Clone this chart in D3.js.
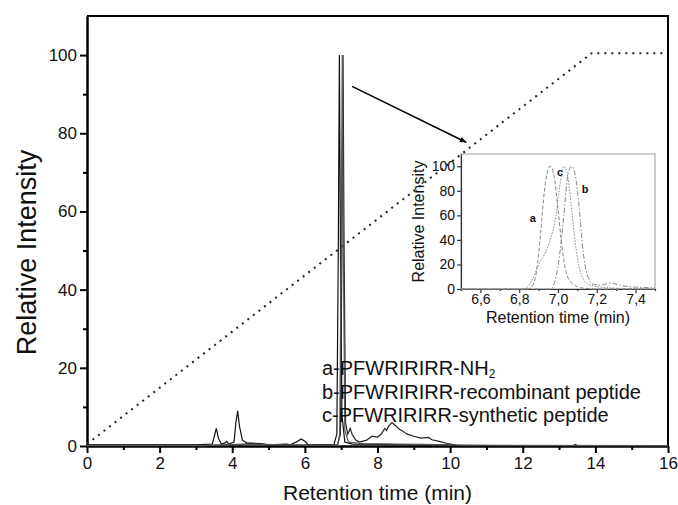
<!DOCTYPE html>
<html>
<head>
<meta charset="utf-8">
<script src="https://cdn.jsdelivr.net/npm/d3@7"></script>
<style>
  body { margin: 0; background: #fff; }
  text { font-family: 'Liberation Sans', Arial, sans-serif; fill: #111; }
</style>
</head>
<body>
<script>
// Chart settings
const width = 678
const height = 505

// Main chromatogram traces [time, intensity]
const traceA = [[0, 0.3], [3.0, 0.3], [3.45, 0.5], [3.52, 3], [3.56, 4.5], [3.62, 2], [3.7, 0.5], [3.8, 0.8], [3.85, 1.2], [3.9, 0.5],
  [4.05, 1], [4.1, 6], [4.15, 9], [4.2, 5], [4.28, 1.5], [4.4, 0.8], [4.8, 0.6], [5.0, 0.3], [5.5, 0.5], [5.6, 0.3],
  [5.8, 1.2], [5.9, 1.8], [6.0, 1.2], [6.1, 0.3], [6.8, 0.4], [6.88, 3], [6.92, 50], [6.95, 100], [6.98, 50], [7.02, 8],
  [7.1, 1], [7.3, 0.5], [8.0, 0.4], [9.0, 0.3], [10.0, 0.3], [10.2, 0.1], [16, 0.1]]
const traceB = [[0, 0.2], [4.3, 0.2], [4.4, 0.6], [4.8, 0.5], [5.0, 0.2], [6.9, 0.3], [6.98, 3], [7.02, 50], [7.05, 100], [7.08, 50],
  [7.12, 6], [7.18, 3], [7.25, 4.5], [7.3, 3], [7.4, 1.5], [7.5, 1], [7.7, 1.5], [7.85, 2.5], [8.0, 2.3], [8.1, 3],
  [8.2, 4.5], [8.25, 4], [8.3, 5], [8.4, 6], [8.5, 5.2], [8.6, 4.3], [8.7, 3.8], [8.8, 3.1], [9.0, 2.5], [9.2, 2],
  [9.4, 2.2], [9.5, 1.6], [9.7, 1.2], [9.9, 0.7], [10.05, 0.4], [10.2, 0.1], [13.4, 0.1], [13.45, 0.4], [13.5, 0.1], [16, 0.1]]
const traceC = [[0, 0.1], [3.2, 0.1], [4.3, 0.5], [4.8, 0.4], [5.5, 0.3], [6.9, 0.2], [6.96, 3], [7.0, 50], [7.03, 100], [7.06, 50],
  [7.1, 4], [7.2, 1], [7.6, 0.6], [8.5, 0.5], [9.2, 0.4], [10.0, 0.3], [10.6, 0.2], [16, 0.1]]

// Gradient (dotted line)
const gradient = [[0, 0.5], [13.9, 100.5], [16, 100.5]]

// Inset traces (zoom of main peak)
const insetA = [[6.5, 0], [6.85, 0], [6.87, 3], [6.89, 15], [6.91, 45], [6.93, 80], [6.95, 98], [6.96, 100], [6.98, 92],
  [7.0, 65], [7.02, 35], [7.04, 15], [7.07, 5], [7.12, 1], [7.2, 0], [7.5, 0]]
const insetC = [[6.5, 0], [6.82, 0], [6.85, 3], [6.88, 12], [6.9, 20], [6.93, 28], [6.96, 40], [6.99, 60], [7.01, 85], [7.03, 100],
  [7.05, 92], [7.07, 65], [7.1, 25], [7.13, 8], [7.17, 3], [7.25, 1], [7.5, 0]]
const insetB = [[6.5, 0], [6.96, 0], [6.99, 10], [7.01, 30], [7.03, 60], [7.05, 92], [7.07, 100], [7.09, 92], [7.11, 65],
  [7.13, 30], [7.15, 12], [7.18, 4], [7.22, 3], [7.27, 5], [7.32, 3], [7.4, 1.5], [7.5, 1]]

// Tick values
const xTicks = [0, 2, 4, 6, 8, 10, 12, 14, 16]
const xMinor = [1, 3, 5, 7, 9, 11, 13, 15]
const yTicks = [0, 20, 40, 60, 80, 100]
const yMinor = [10, 30, 50, 70, 90]
const insetXTicks = [6.6, 6.8, 7.0, 7.2, 7.4]
const insetXMinor = [6.5, 6.7, 6.9, 7.1, 7.3, 7.5]
const insetYTicks = [0, 20, 40, 60, 80, 100]

// Legend lines
const legendLines = ['a-PFWRIRIRR-NH', 'b-PFWRIRIRR-recombinant peptide', 'c-PFWRIRIRR-synthetic peptide']

const svg = d3.select('body').append('svg')
  .attr('width', width)
  .attr('height', height)

svg.append('defs').append('marker')
  .attr('id', 'arrow')
  .attr('viewBox', '0 0 10 10')
  .attr('refX', 9).attr('refY', 5)
  .attr('markerWidth', 7).attr('markerHeight', 7)
  .attr('markerUnits', 'userSpaceOnUse')
  .attr('orient', 'auto')
  .append('path')
  .attr('d', 'M0,1 L10,5 L0,9 Z')
  .attr('fill', '#000')

// Main scales
const xScale = d3.scaleLinear().domain([0, 16]).range([87, 668])
const yScale = d3.scaleLinear().domain([0, 110]).range([446, 16])

// Main axes
svg.append('g')
  .attr('transform', `translate(0, ${yScale(0)})`)
  .call(d3.axisBottom(xScale).tickValues(xTicks).tickSize(7).tickSizeOuter(0).tickPadding(4))
svg.append('g')
  .attr('transform', `translate(0, ${yScale(0)})`)
  .call(d3.axisBottom(xScale).tickValues(xMinor).tickSize(4).tickSizeOuter(0).tickFormat(''))
svg.append('g')
  .attr('transform', `translate(${xScale(0)}, 0)`)
  .call(d3.axisLeft(yScale).tickValues(yTicks).tickSize(7).tickSizeOuter(0).tickPadding(3))
svg.append('g')
  .attr('transform', `translate(${xScale(0)}, 0)`)
  .call(d3.axisLeft(yScale).tickValues(yMinor).tickSize(4).tickSizeOuter(0).tickFormat(''))

svg.selectAll('.domain, .tick line').attr('stroke', '#000').attr('stroke-width', 2)
svg.selectAll('.tick text').style('font-size', '17px').attr('fill', '#111')

// Frame (top, right)
svg.append('path')
  .attr('d', `M${xScale(0)},${yScale(110)} H${xScale(16)} V${yScale(0)}`)
  .attr('fill', 'none')
  .attr('stroke', '#000')
  .attr('stroke-width', 2)

// Axis titles
svg.append('text')
  .attr('x', (xScale(0) + xScale(16)) / 2)
  .attr('y', 500)
  .attr('text-anchor', 'middle')
  .style('font-size', '21px')
  .text('Retention time (min)')
svg.append('text')
  .attr('transform', `translate(36, ${yScale(50) + 2}) rotate(-90)`)
  .attr('text-anchor', 'middle')
  .style('font-size', '27px')
  .text('Relative Intensity')

const line = d3.line().x(d => xScale(d[0])).y(d => yScale(d[1]))

// Gradient
svg.append('path')
  .datum(gradient)
  .attr('d', line)
  .attr('fill', 'none')
  .attr('stroke', '#222')
  .attr('stroke-width', 2)
  .attr('stroke-dasharray', '2,5')

// Traces
const traceColors = ['#111', '#222', '#555']
;[traceA, traceB, traceC].forEach((t, i) => {
  svg.append('path')
    .datum(t)
    .attr('d', line)
    .attr('fill', 'none')
    .attr('stroke', traceColors[i])
    .attr('stroke-width', 1.2)
})

// Arrow from peak to inset
svg.append('line')
  .attr('x1', xScale(7.3)).attr('y1', yScale(92))
  .attr('x2', xScale(10.44)).attr('y2', yScale(77.7))
  .attr('stroke', '#000')
  .attr('stroke-width', 1.5)
  .attr('marker-end', 'url(#arrow)')

// Legend text
const legend = svg.append('g')
legendLines.forEach((t, i) => {
  const txt = legend.append('text')
    .attr('x', 322)
    .attr('y', 375 + i * 23.5)
    .style('font-size', '20px')
    .text(t)
  if (i === 0) {
    txt.append('tspan').attr('dy', 3).style('font-size', '12px').text('2')
  }
})

// Inset
const ix = d3.scaleLinear().domain([6.5, 7.5]).range([461, 655])
const iy = d3.scaleLinear().domain([0, 110]).range([289, 154])
const inset = svg.append('g')

inset.append('rect')
  .attr('x', ix(6.5)).attr('y', iy(110))
  .attr('width', ix(7.5) - ix(6.5)).attr('height', iy(0) - iy(110))
  .attr('fill', '#fff')
  .attr('stroke', '#999')
  .attr('stroke-width', 1)

inset.append('g')
  .attr('transform', `translate(0, ${iy(0)})`)
  .call(d3.axisBottom(ix).tickValues(insetXTicks).tickSize(4).tickSizeOuter(0).tickPadding(1)
    .tickFormat(d => d3.format('.1f')(d).replace('.', ',')))
inset.append('g')
  .attr('transform', `translate(0, ${iy(0)})`)
  .call(d3.axisBottom(ix).tickValues(insetXMinor).tickSize(2).tickSizeOuter(0).tickFormat(''))
inset.append('g')
  .attr('transform', `translate(${ix(6.5)}, 0)`)
  .call(d3.axisLeft(iy).tickValues(insetYTicks).tickSize(4).tickSizeOuter(0).tickPadding(2))

inset.selectAll('.domain, .tick line').attr('stroke', '#333').attr('stroke-width', 1.2)
inset.selectAll('.tick text').style('font-size', '14px').attr('fill', '#222')

inset.append('text')
  .attr('x', (ix(6.5) + ix(7.5)) / 2)
  .attr('y', 323)
  .attr('text-anchor', 'middle')
  .style('font-size', '16px')
  .text('Retention time (min)')
inset.append('text')
  .attr('transform', `translate(424, ${iy(55)}) rotate(-90)`)
  .attr('text-anchor', 'middle')
  .style('font-size', '16px')
  .text('Relative Intensity')

const iline = d3.line().curve(d3.curveMonotoneX).x(d => ix(d[0])).y(d => iy(d[1]))
const insetStyles = [
  { data: insetA, dash: '4,2' },
  { data: insetC, dash: '1.5,1.5' },
  { data: insetB, dash: '5,2,1.5,2' }
]
insetStyles.forEach(s => {
  inset.append('path')
    .datum(s.data)
    .attr('d', iline)
    .attr('fill', 'none')
    .attr('stroke', '#888')
    .attr('stroke-width', 1)
    .attr('stroke-dasharray', s.dash)
})

// Inset curve labels
const curveLabels = [['a', 6.87, 55], ['c', 7.01, 92], ['b', 7.14, 78]]
curveLabels.forEach(([t, x, y]) => {
  inset.append('text')
    .attr('x', ix(x)).attr('y', iy(y))
    .attr('text-anchor', 'middle')
    .style('font-size', '11px')
    .style('font-weight', 'bold')
    .attr('fill', '#444')
    .text(t)
})
</script>
</body>
</html>
